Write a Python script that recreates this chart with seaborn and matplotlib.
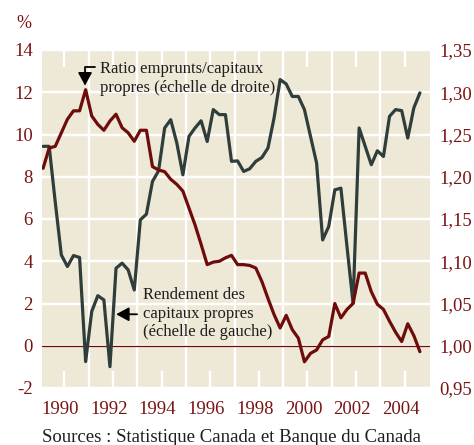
import numpy as np
import pandas as pd
import matplotlib
matplotlib.use("Agg")
import matplotlib.pyplot as plt
import seaborn as sns
from matplotlib.ticker import FuncFormatter
from matplotlib.transforms import ScaledTranslation

# Quarterly data, 1989Q1 - 2004Q3
roe = [9.44, 9.44, 6.8, 4.3, 3.75, 4.27, 4.18, -0.75, 1.62, 2.37,
       2.17, -0.99, 3.67, 3.91, 3.59, 2.64, 5.96, 6.23, 7.78, 8.28,
       10.31, 10.7, 9.6, 8.09, 9.91, 10.31, 10.65, 9.67, 11.18, 10.94,
       10.94, 8.73, 8.75, 8.25, 8.38, 8.73, 8.91, 9.36, 10.78, 12.6,
       12.39, 11.8, 11.8, 11.18, 9.91, 8.65, 5.01, 5.65, 7.38, 7.46,
       4.7, 2.01, 10.31, 9.44, 8.57, 9.23, 8.96, 10.86, 11.18, 11.13,
       9.83, 11.26, 11.97]
ratio = [1.210, 1.234, 1.236, 1.252, 1.268, 1.278, 1.278, 1.303, 1.272, 1.262,
         1.255, 1.266, 1.274, 1.258, 1.252, 1.242, 1.255, 1.255, 1.212, 1.208,
         1.206, 1.197, 1.191, 1.183, 1.163, 1.143, 1.120, 1.096, 1.099, 1.100,
         1.104, 1.107, 1.096, 1.096, 1.095, 1.092, 1.076, 1.056, 1.037, 1.021,
         1.036, 1.019, 1.009, 0.981, 0.991, 0.995, 1.007, 1.011, 1.050, 1.033,
         1.043, 1.050, 1.086, 1.086, 1.064, 1.049, 1.043, 1.029, 1.016, 1.005,
         1.026, 1.012, 0.993]
year_labels = ["1990", "1992", "1994", "1996", "1998", "2000", "2002", "2004"]
left_ticks = [-2, 0, 2, 4, 6, 8, 10, 12, 14]
right_ticks = [0.95, 1.00, 1.05, 1.10, 1.15, 1.20, 1.25, 1.30, 1.35]

t = 1989.125 + 0.25 * np.arange(len(roe))
df = pd.DataFrame({"t": t, "roe": roe, "ratio": ratio})

sns.set_style("white")
plt.rcParams["font.family"] = ["Liberation Serif", "DejaVu Serif"]

BG = "#EEE9D7"
GRAY = "#2F3E3B"
RED = "#6E0B0B"
TICK = "#7A1414"
TXT = "#1E1E1E"

fig = plt.figure(figsize=(4.74, 4.45), dpi=100)
fig.patch.set_facecolor("white")
ax = fig.add_axes([42/474, 1-388/445, 388/474, 338/445])
ax.set_facecolor(BG)
ax2 = ax.twinx()

sns.lineplot(data=df, x="t", y="roe", ax=ax, color=GRAY, lw=2.3)
sns.lineplot(data=df, x="t", y="ratio", ax=ax2, color=RED, lw=2.3)

ax.set_xlim(1989.08, 2005.04)
ax.set_ylim(-2, 14)
ax2.set_ylim(0.95, 1.35)

# grid & ticks
ax.set_yticks(left_ticks)
ax.set_yticklabels([str(v) for v in left_ticks])
ax2.set_yticks(right_ticks)
ax2.yaxis.set_major_formatter(FuncFormatter(lambda v, p: f"{v:.2f}".replace(".", ",")))
years = [int(y) for y in year_labels]
ax.set_xticks(years)
ax.set_xticklabels(year_labels)
ax.set_xticks(list(range(1991, 2005, 2)), minor=True)
ax.grid(False)
ax.grid(which="major", axis="y", color="white", lw=1.7)
ax.grid(which="minor", axis="x", color="white", lw=1.7)
ax.set_axisbelow(True)
ax.tick_params(axis="x", which="major", direction="in", length=12.5, width=1.7,
               color="white", top=True, bottom=True, pad=9,
               labelsize=13.5, labelcolor=TICK)
ax.tick_params(axis="x", which="minor", length=0)
ax.tick_params(axis="y", length=0, pad=6.5, labelsize=13.5, labelcolor=TICK)
ax2.tick_params(axis="y", length=0, pad=7, labelsize=13.5, labelcolor=TICK)
for lbl in ax.get_xticklabels():
    lbl.set_transform(lbl.get_transform() + ScaledTranslation(-4/100, 0, fig.dpi_scale_trans))

ax.axhline(0, color=RED, lw=0.9, zorder=1.5)
ax.set_xlabel("")
ax.set_ylabel("")
ax2.set_ylabel("")
for a in (ax, ax2):
    for s in a.spines.values():
        s.set_visible(False)

# annotations
ax.annotate("", xy=(1990.85, 12.32), xytext=(1991.28, 13.2),
            arrowprops=dict(arrowstyle="-|>,head_length=0.55,head_width=0.3",
                            connectionstyle="angle,angleA=180,angleB=90,rad=0",
                            color="black", lw=1.3, shrinkA=0, shrinkB=0,
                            mutation_scale=14))
ax.text(1991.47, 12.66, "Ratio emprunts/capitaux\npropres (échelle de droite)",
        ha="left", va="center", fontsize=12, color=TXT, linespacing=1.22)
ax.annotate("", xy=(1992.13, 1.49), xytext=(1992.99, 1.49),
            arrowprops=dict(arrowstyle="-|>,head_length=0.55,head_width=0.3",
                            color="black", lw=1.3, shrinkA=0, shrinkB=0,
                            mutation_scale=14))
ax.text(1993.24, 1.52, "Rendement des\ncapitaux propres\n(échelle de gauche)",
        ha="left", va="center", fontsize=12, color=TXT, linespacing=1.22)

fig.text(24/474, 1-23/445, "%", ha="center", va="center", fontsize=13, color=TICK)
fig.text(42/474, 1-437/445, "Sources : Statistique Canada et Banque du Canada",
         ha="left", va="center", fontsize=13.5, color=TXT)

fig.savefig("out.png", dpi=100, facecolor="white")
